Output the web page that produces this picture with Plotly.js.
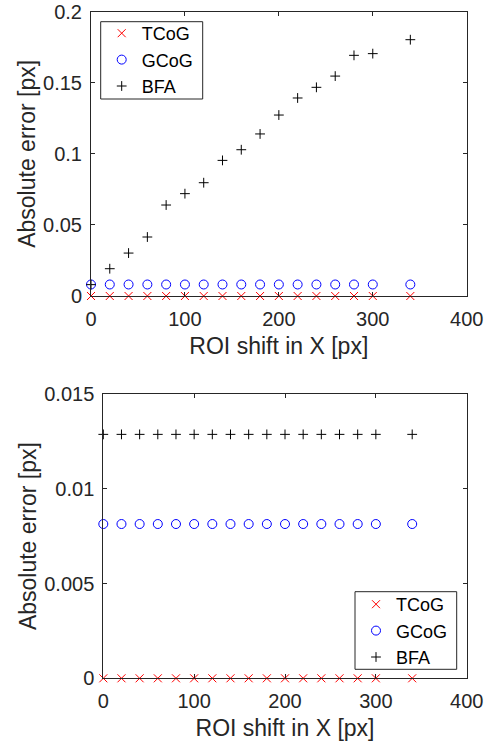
<!DOCTYPE html>
<html>
<head>
<meta charset="utf-8">
<script src="https://cdn.plot.ly/plotly-3.0.1.min.js"></script>
<style>html,body{margin:0;padding:0;background:#fff;}#chart{width:490px;height:749px;}</style>
</head>
<body>
<div id="chart"></div>
<script>
// ROI shift in X [px]
const shiftX = [0, 20, 40, 60, 80, 100, 120, 140, 160, 180, 200, 220, 240, 260, 280, 300, 340];

// Top panel absolute errors [px]
const topTCoG = [0, 0, 0, 0, 0, 0, 0, 0, 0, 0, 0, 0, 0, 0, 0, 0, 0];
const topGCoG = [0.0081, 0.0081, 0.0081, 0.0081, 0.0081, 0.0081, 0.0081, 0.0081, 0.0081, 0.0081, 0.0081, 0.0081, 0.0081, 0.0081, 0.0081, 0.0081, 0.0081];
const topBFA  = [0.0080, 0.0192, 0.0302, 0.0415, 0.0640, 0.0720, 0.0797, 0.0954, 0.1029, 0.1140, 0.1273, 0.1393, 0.1468, 0.1547, 0.1693, 0.1705, 0.1803];

// Bottom panel absolute errors [px]
const botTCoG = [0, 0, 0, 0, 0, 0, 0, 0, 0, 0, 0, 0, 0, 0, 0, 0, 0];
const botGCoG = [0.00814, 0.00814, 0.00814, 0.00814, 0.00814, 0.00814, 0.00814, 0.00814, 0.00814, 0.00814, 0.00814, 0.00814, 0.00814, 0.00814, 0.00814, 0.00814, 0.00814];
const botBFA  = [0.01287, 0.01287, 0.01287, 0.01287, 0.01287, 0.01287, 0.01287, 0.01287, 0.01287, 0.01287, 0.01287, 0.01287, 0.01287, 0.01287, 0.01287, 0.01287, 0.01287];

const seriesNames = ['TCoG', 'GCoG', 'BFA'];
const xTicks = [0, 100, 200, 300, 400];
const topYTicks = [0, 0.05, 0.1, 0.15, 0.2];
const botYTicks = [0, 0.005, 0.01, 0.015];

const FONT = 'Liberation Sans, Arial, Helvetica, sans-serif';
const AX = '#262626';
const W = 490, H = 749;

const styles = [
  {symbol: 'x-thin-open', size: 8, line: {color: '#ff0000', width: 1}, color: '#ff0000'},
  {symbol: 'circle-open', size: 9, line: {color: '#0000ff', width: 1}, color: '#0000ff'},
  {symbol: 'cross-thin-open', size: 7, line: {color: '#000000', width: 1}, color: '#000000'}
];

function mk(x, y, i, xa, ya, leg) {
  return {x: x, y: y, type: 'scatter', mode: 'markers', name: seriesNames[i],
    xaxis: xa, yaxis: ya, legend: leg, cliponaxis: false, marker: styles[i]};
}

const data = [
  mk(shiftX, topTCoG, 0, 'x', 'y', 'legend'),
  mk(shiftX, topGCoG, 1, 'x', 'y', 'legend'),
  mk(shiftX, topBFA, 2, 'x', 'y', 'legend'),
  mk(shiftX, botTCoG, 0, 'x2', 'y2', 'legend2'),
  mk(shiftX, botGCoG, 1, 'x2', 'y2', 'legend2'),
  mk(shiftX, botBFA, 2, 'x2', 'y2', 'legend2')
];

function xaxis(domain, anchor) {
  return {domain: domain, anchor: anchor, range: [0, 400], tickvals: xTicks, ticktext: xTicks.map(String),
    ticks: 'inside', ticklen: 4, tickcolor: AX, showline: true, linecolor: AX, linewidth: 1, mirror: 'ticks',
    showgrid: false, zeroline: false, tickfont: {family: FONT, size: 20, color: AX}, ticklabelstandoff: 5,
    title: {text: 'ROI shift in X [px]', font: {family: FONT, size: 23, color: AX}, standoff: 8}};
}
function yaxis(domain, anchor, range, ticks) {
  return {domain: domain, anchor: anchor, range: range, tickvals: ticks, ticktext: ticks.map(String),
    ticks: 'inside', ticklen: 4, tickcolor: AX, showline: true, linecolor: AX, linewidth: 1, mirror: 'ticks',
    showgrid: false, zeroline: false, tickfont: {family: FONT, size: 20, color: AX}, ticklabelstandoff: 4,
    title: {text: 'Absolute error [px]', font: {family: FONT, size: 23, color: AX}, standoff: 1}};
}

const legendStyle = {font: {family: FONT, size: 18, color: '#000'}, bgcolor: 'rgba(0,0,0,0)', borderwidth: 0, tracegroupgap: 0,
  xanchor: 'left', yanchor: 'top'};

function box(x0, x1, y0, y1) {
  return {type: 'rect', xref: 'paper', yref: 'paper', x0: x0 / W, x1: x1 / W, y0: 1 - y1 / H, y1: 1 - y0 / H,
    line: {color: AX, width: 1}, fillcolor: '#ffffff', layer: 'above'};
}

const layout = {
  width: W, height: H,
  margin: {l: 0, r: 0, t: 0, b: 0},
  paper_bgcolor: '#ffffff', plot_bgcolor: '#ffffff',
  showlegend: true,
  xaxis: xaxis([91/W, 466.7/W], 'y'),
  yaxis: yaxis([(H-296)/H, (H-11.7)/H], 'x', [0, 0.2], topYTicks),
  xaxis2: xaxis([103.3/W, 466.7/W], 'y2'),
  yaxis2: yaxis([(H-678.3)/H, (H-394)/H], 'x2', [0, 0.015], botYTicks),
  legend: Object.assign({x: 101.7/W, y: 1 - 15/H}, legendStyle),
  legend2: Object.assign({x: 356/W, y: 1 - 586/H}, legendStyle),
  shapes: [box(100.7, 202.7, 21.7, 99), box(355, 456.7, 591.7, 669.3)]
};

Plotly.newPlot('chart', data, layout, {staticPlot: true, displayModeBar: false});
</script>
</body>
</html>
